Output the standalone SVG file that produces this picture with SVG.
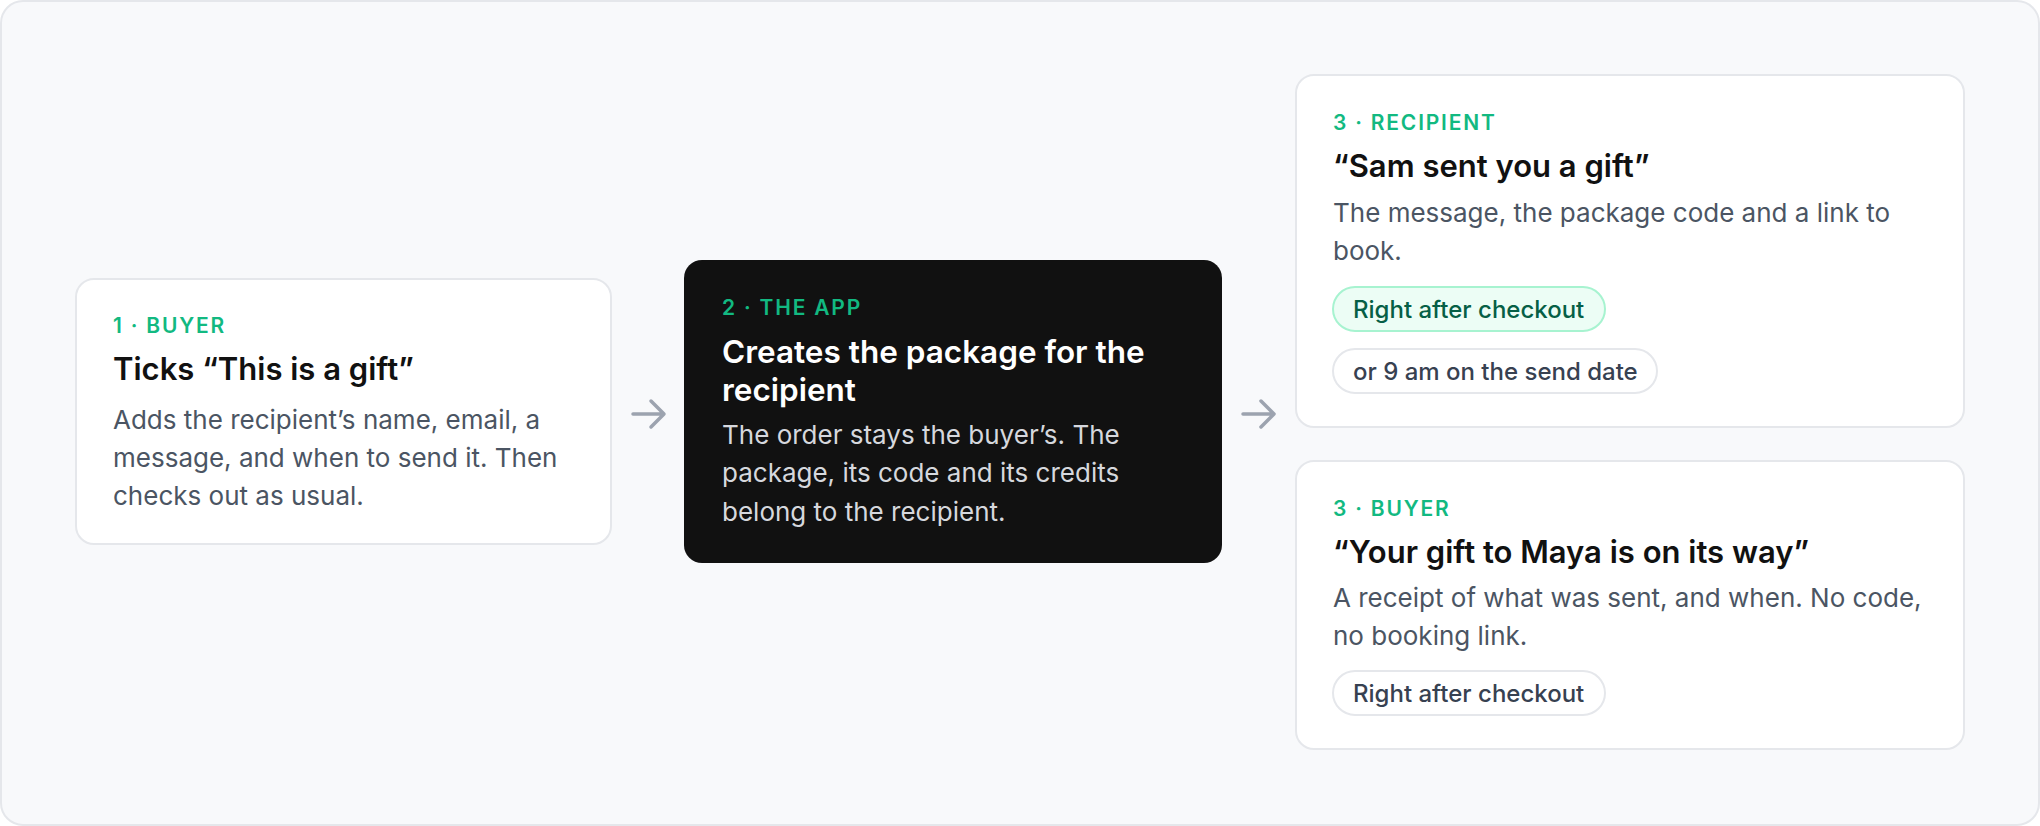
<svg xmlns="http://www.w3.org/2000/svg" width="2040" height="826" viewBox="0 0 2040 826">
<defs>
<style>
.frame{fill:#f8f9fb;stroke:#e5e7eb;stroke-width:2}
.card{fill:#ffffff;stroke:#e5e7eb;stroke-width:2}
.dark{fill:#111111}
.lbl{font-family:Inter,"Noto Sans",sans-serif;font-size:21px;font-weight:600;letter-spacing:1.8px;fill:#12b981}
.ttl{font-family:Inter,"Noto Sans",sans-serif;font-size:31px;font-weight:600;fill:#111111}
.ttlw{font-family:Inter,"Noto Sans",sans-serif;font-size:31.5px;font-weight:600;fill:#ffffff}
.body{font-family:Inter,"Noto Sans",sans-serif;font-size:26px;font-weight:400;fill:#4b5563}
.bodyw{font-family:Inter,"Noto Sans",sans-serif;font-size:26px;font-weight:400;fill:#d6d8dd}
.pillg{fill:#ecfdf5;stroke:#a7f3d0;stroke-width:2}
.pill{fill:#ffffff;stroke:#e5e7eb;stroke-width:2}
.ptg{font-family:Inter,"Noto Sans",sans-serif;font-size:24px;font-weight:500;fill:#065f46}
.pt{font-family:Inter,"Noto Sans",sans-serif;font-size:24px;font-weight:500;fill:#374151}
.arr{fill:none;stroke:#9ca3af;stroke-width:3.5;stroke-linecap:round;stroke-linejoin:round}
</style>
</defs>
<rect class="frame" x="1" y="1" width="2038" height="824" rx="22"/>
<g id="connectors">
<path class="arr" d="M633 414 H663 M651 401 L664 414 L651 427"/>
<path class="arr" d="M1243 414 H1273 M1261 401 L1274 414 L1261 427"/>
</g>
<g id="node-buyer">
<rect class="card" x="76" y="279" width="535" height="265" rx="18"/>
<text class="lbl" x="113" y="333">1 · BUYER</text>
<text class="ttl" x="113" y="380">Ticks “This is a gift”</text>
<text class="body" x="113" y="429">Adds the recipient’s name, email, a</text>
<text class="body" x="113" y="467">message, and when to send it. Then</text>
<text class="body" x="113" y="505">checks out as usual.</text>
</g>
<g id="node-app">
<rect class="dark" x="684" y="260" width="538" height="303" rx="18"/>
<text class="lbl" x="722" y="315">2 · THE APP</text>
<text class="ttlw" x="722" y="363">Creates the package for the</text>
<text class="ttlw" x="722" y="401">recipient</text>
<text class="bodyw" x="722" y="444">The order stays the buyer’s. The</text>
<text class="bodyw" x="722" y="482">package, its code and its credits</text>
<text class="bodyw" x="722" y="521">belong to the recipient.</text>
</g>
<g id="node-recipient">
<rect class="card" x="1296" y="75" width="668" height="352" rx="18"/>
<text class="lbl" x="1333" y="130">3 · RECIPIENT</text>
<text class="ttl" x="1333" y="177">“Sam sent you a gift”</text>
<text class="body" x="1333" y="222">The message, the package code and a link to</text>
<text class="body" x="1333" y="260">book.</text>
<rect class="pillg" x="1333" y="287" width="272" height="44" rx="22"/>
<text class="ptg" x="1353" y="318">Right after checkout</text>
<rect class="pill" x="1333" y="349" width="324" height="44" rx="22"/>
<text class="pt" x="1353" y="380">or 9 am on the send date</text>
</g>
<g id="node-buyer-receipt">
<rect class="card" x="1296" y="461" width="668" height="288" rx="18"/>
<text class="lbl" x="1333" y="516">3 · BUYER</text>
<text class="ttl" x="1333" y="563">“Your gift to Maya is on its way”</text>
<text class="body" x="1333" y="607">A receipt of what was sent, and when. No code,</text>
<text class="body" x="1333" y="645">no booking link.</text>
<rect class="pill" x="1333" y="671" width="272" height="44" rx="22"/>
<text class="pt" x="1353" y="702">Right after checkout</text>
</g>
</svg>
